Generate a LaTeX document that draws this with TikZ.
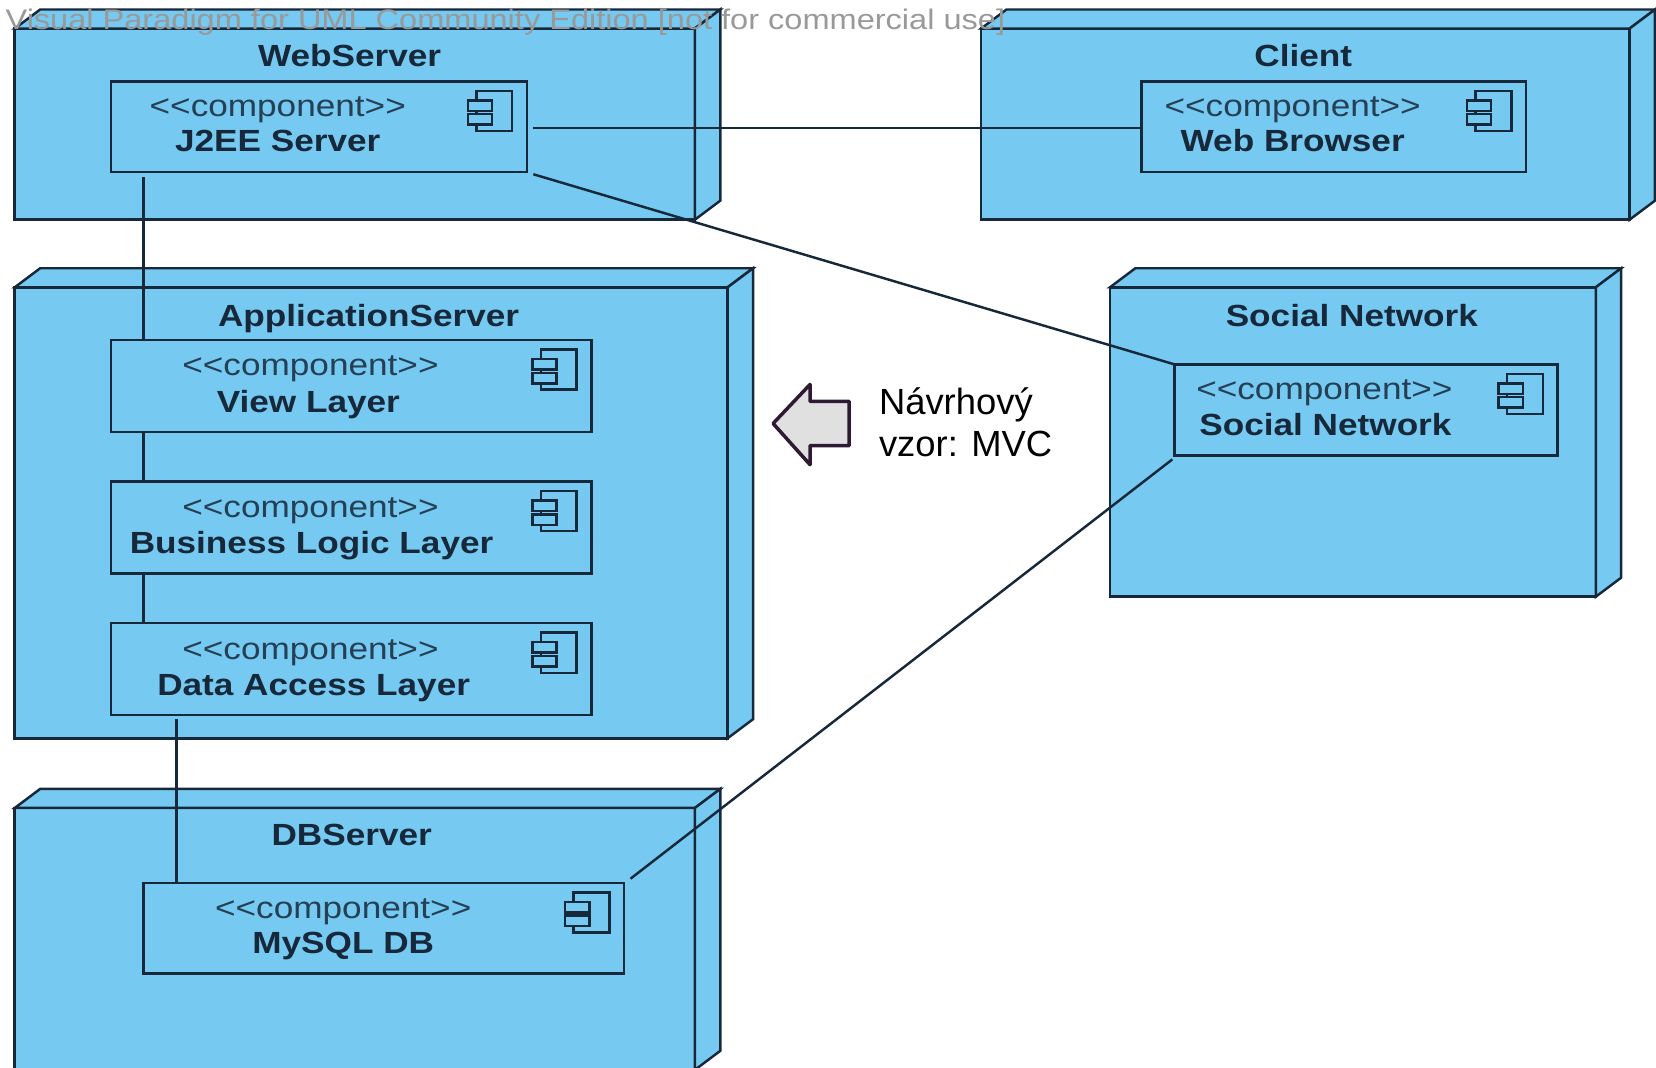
\documentclass[tikz,border=0pt]{standalone}
\usepackage{fontspec}
\usepackage{tikz}
\newfontfamily\umlfont[FakeStretch=1.15]{Liberation Sans}
\newfontfamily\notefont{Liberation Sans}
\definecolor{nodeblue}{HTML}{76C9F0}
\definecolor{lineblue}{HTML}{17283A}
\definecolor{arrowline}{HTML}{2E1A33}
\definecolor{arrowfill}{HTML}{E0E0E0}
\def\u{0.02112cm}

\tikzset{
    box/.style 2 args={draw=lineblue, line width=1.5pt, fill=nodeblue, inner sep=0pt, outer sep=0pt, minimum width=#1*\u, minimum height=#2*\u},
    title/.style={inner sep=0pt, text height=12.2pt, text depth=0pt, text=lineblue, font=\umlfont\bfseries\fontsize{17.4}{20}\selectfont},
    stereo/.style={inner sep=0pt, text height=12pt, text depth=0pt, text=lineblue!85!nodeblue, font=\umlfont\fontsize{17.4}{20}\selectfont},
    link/.style={draw=lineblue, line width=1.4pt},
}

\begin{document}
\begin{tikzpicture}[x=\u, y=-\u]
        \useasboundingbox (0,0) rectangle (1568,1010.4);
        \clip (0,0) rectangle (1568,1010.4);

        % deployment nodes
        \node[box={644}{181}] (web) at (336,117.5) {};
        \node[box={614}{181}] (client) at (1236,117.5) {};
        \node[box={675}{427}] (app) at (351.5,485.5) {};
        \node[box={460}{293}] (socialnet) at (1281,418.5) {};
        \node[box={644}{248}] (db) at (336,889) {};

        \foreach \n in {web,client,app,socialnet,db} {
            \draw[link, fill=nodeblue] (\n.north west) -- ++(24,-18) -- ([shift={(24,-18)}]\n.north east) -- (\n.north east) -- cycle;
            \draw[link, fill=nodeblue] (\n.north east) -- ++(24,-18) -- ([shift={(24,-18)}]\n.south east) -- (\n.south east) -- cycle;
        }

        % components
        \node[box={394}{86}] (j2ee) at (302,120) {};
        \node[box={364}{86}] (browser) at (1263,120) {};
        \node[box={455}{87}] (view) at (332.5,365.5) {};
        \node[box={455}{87}] (logic) at (332.5,499.5) {};
        \node[box={455}{87}] (data) at (332.5,633.5) {};
        \node[box={363}{86}] (socialcomp) at (1293.5,388) {};
        \node[box={455}{86}] (mysql) at (363.5,879) {};

        \foreach \n in {j2ee,browser,view,logic,data,socialcomp,mysql} {
            \draw[link] ([shift={(-48,9)}]\n.north east) rectangle ([shift={(-14,47)}]\n.north east);
            \draw[link, fill=nodeblue] ([shift={(-56,18)}]\n.north east) rectangle ([shift={(-33,28)}]\n.north east);
            \draw[link, fill=nodeblue] ([shift={(-56,31)}]\n.north east) rectangle ([shift={(-33,41)}]\n.north east);
        }

        % texts
        \node[title] (webname) at (331,53) {WebServer};
        \node[title] (clientname) at (1234,53) {Client};
        \node[title] (appname) at (349,299) {ApplicationServer};
        \node[title] (socialnetname) at (1280,299) {Social Network};
        \node[title] (dbname) at (333,790) {DBServer};

        \node[stereo] (j2eetype) at (263,100) {<{}<component>{}>};
        \node[title] (j2eename) at (263,133) {J2EE Server};
        \node[stereo] (browsertype) at (1224,100) {<{}<component>{}>};
        \node[title] (browsername) at (1224,133) {Web Browser};
        \node[stereo] (viewtype) at (294,346) {<{}<component>{}>};
        \node[title] (viewname) at (292,380) {View Layer};
        \node[stereo] (logictype) at (294,480) {<{}<component>{}>};
        \node[title] (logicname) at (295,514) {Business Logic Layer};
        \node[stereo] (datatype) at (294,614) {<{}<component>{}>};
        \node[title] (dataname) at (297,648) {Data Access Layer};
        \node[stereo] (socialcomptype) at (1254,368) {<{}<component>{}>};
        \node[title] (socialcompname) at (1255,402) {Social Network};
        \node[stereo] (mysqltype) at (325,860) {<{}<component>{}>};
        \node[title] (mysqlname) at (325,893) {MySQL DB};

        % connectors
        \draw[link] ([shift={(6,1)}]j2ee.east) -- ([yshift=-1*\u]browser.west);
        \draw[link] ([shift={(6,2)}]j2ee.south east) -- (socialcomp.north west);
        \draw[link] ([shift={(31,5)}]j2ee.south west) -- ([xshift=31*\u]view.north west);
        \draw[link] ([xshift=31*\u]view.south west) -- ([xshift=31*\u]logic.north west);
        \draw[link] ([xshift=31*\u]logic.south west) -- ([xshift=31*\u]data.north west);
        \draw[link] ([shift={(62,4)}]data.south west) -- ([xshift=31*\u]mysql.north west);
        \draw[link] ([shift={(6,-4)}]mysql.north east) -- ([shift={(-2,4)}]socialcomp.south west);

        % arrow and note
        \draw[draw=arrowline, fill=arrowfill, line width=2pt, line join=round] (732,401) -- (767,364) -- (767,380) -- (804,380) -- (804,422) -- (767,422) -- (767,440) -- cycle;
        \node[anchor=west, inner sep=0pt, align=left, font=\notefont\fontsize{20.7}{24}\selectfont] (note) at (832,400) {Návrhový\\vzor: MVC};

        \node[anchor=west, inner sep=0pt, text=gray!80, font=\umlfont\fontsize{16.1}{19}\selectfont] (watermark) at (5,21) {Visual Paradigm for UML Community Edition [not for commercial use]};
    \end{tikzpicture}
\end{document}
